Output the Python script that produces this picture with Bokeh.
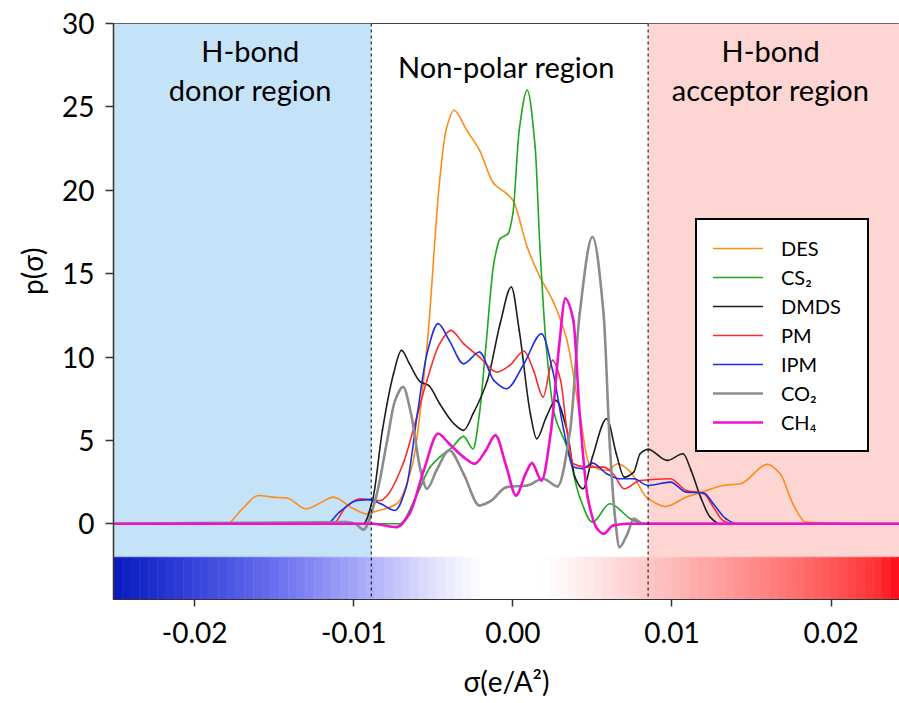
import numpy as np
from bokeh.plotting import figure
from bokeh.models import (Range1d, FixedTicker, BoxAnnotation, Span, Label, Title,
                          Legend, LegendItem, ColumnDataSource)
from bokeh.embed import file_html
from bokeh.resources import INLINE

# ---------------- data ----------------
des_sigma = [-0.025, -0.0180, -0.0170, -0.0160, -0.0151, -0.0142, -0.0130, -0.0120, -0.0113, -0.0100,
             -0.0092, -0.0088, -0.0073, -0.0063, -0.0054, -0.0046, -0.0042, -0.0037, -0.0029, -0.0021,
             -0.0012, -0.0004, 0.0000, 0.0009, 0.0017, 0.0025, 0.0034, 0.0042, 0.0048, 0.0059,
             0.0066, 0.0074, 0.0084, 0.0096, 0.0109, 0.0122, 0.0132, 0.0143, 0.0160, 0.0168,
             0.0176, 0.0184, 0.0201, 0.0229, 0.025]
des_p = [0, 0, 0.9, 1.7, 1.6, 1.55, 0.9, 1.3, 1.6, 0.9,
         0.6, 0.7, 1.2, 3.6, 10.6, 20.6, 23.6, 24.8, 23.6, 22.4,
         20.4, 19.8, 19.4, 16.6, 14.8, 13.4, 11.0, 6.6, 3.6, 3.2,
         3.6, 3.1, 1.6, 1.04, 1.6, 2.0, 2.3, 2.4, 3.56, 3.0,
         1.2, 0.1, 0.05, 0, 0]

cs2_sigma = [-0.025, -0.0071, -0.0061, -0.0052, -0.0046, -0.0038, -0.0031, -0.0025, -0.0021, -0.0017,
             -0.0012, -0.0008, -0.0003, 0.0000, 0.0004, 0.0009, 0.0014, 0.0017, 0.0021, 0.0026,
             0.0034, 0.0042, 0.0050, 0.0061, 0.0074, 0.0082, 0.025]
cs2_p = [0, 0, 1.6, 3.4, 4.0, 4.6, 5.24, 4.5, 6.6, 10.6,
         15.6, 17.1, 17.4, 18.6, 23.6, 26.0, 22.6, 16.6, 10.6, 6.6,
         4.6, 1.6, 0.1, 1.2, 0.3, 0, 0]

dmds_sigma = [-0.025, -0.0094, -0.0088, -0.0082, -0.0075, -0.0070, -0.0065, -0.0058, -0.0053, -0.0046,
              -0.0037, -0.0031, -0.0025, -0.0016, -0.0008, -0.0001, 0.0004, 0.0011, 0.0015, 0.0021,
              0.0027, 0.0034, 0.0039, 0.0044, 0.0050, 0.0059, 0.0065, 0.0070, 0.0076, 0.0080,
              0.0085, 0.0097, 0.0107, 0.0112, 0.0118, 0.0124, 0.0130, 0.025]
dmds_p = [0, 0, 1.5, 5.6, 9.0, 10.4, 9.6, 8.5, 8.3, 7.2,
          6.0, 5.6, 6.6, 8.6, 12.0, 14.2, 11.6, 6.6, 5.1, 6.4,
          7.4, 5.6, 2.8, 2.1, 4.0, 6.3, 4.2, 2.8, 3.1, 4.2,
          4.46, 3.8, 4.2, 3.2, 1.6, 0.4, 0, 0]

pm_sigma = [-0.025, -0.0113, -0.0105, -0.0096, -0.0090, -0.0083, -0.0079, -0.0069, -0.0061, -0.0054,
            -0.0046, -0.0039, -0.0031, -0.0021, -0.0010, -0.0002, 0.0007, 0.0013, 0.0019, 0.0025,
            0.0030, 0.0034, 0.0038, 0.0046, 0.0057, 0.0063, 0.0070, 0.0080, 0.0099, 0.0109,
            0.0120, 0.0126, 0.0132, 0.0139, 0.025]
pm_p = [0, 0, 1.0, 1.5, 1.45, 1.4, 1.7, 3.6, 6.2, 8.6,
        10.8, 11.6, 10.8, 10.0, 9.1, 9.5, 10.35, 9.2, 7.6, 9.8,
        8.6, 5.6, 3.6, 3.4, 3.4, 3.0, 2.1, 2.6, 2.7, 2.0,
        1.8, 1.0, 0.2, 0, 0]

ipm_sigma = [-0.025, -0.0117, -0.0109, -0.0098, -0.0090, -0.0083, -0.0074, -0.0067, -0.0060, -0.0054,
             -0.0047, -0.0040, -0.0031, -0.0021, -0.0012, -0.0004, 0.0007, 0.0018, 0.0025, 0.0032,
             0.0038, 0.0044, 0.0050, 0.0059, 0.0067, 0.0076, 0.0085, 0.0099, 0.0109, 0.0120,
             0.0126, 0.0134, 0.0141, 0.025]
ipm_p = [0, 0, 0.7, 1.4, 1.45, 1.2, 0.8, 2.2, 6.6, 10.2,
         12.0, 11.0, 9.6, 10.3, 8.6, 8.1, 9.6, 11.4, 9.2, 5.6,
         3.4, 3.3, 3.64, 3.0, 2.7, 2.7, 2.3, 2.5, 1.9, 1.85,
         1.2, 0.3, 0, 0]

co2_sigma = [-0.025, -0.0105, -0.0099, -0.0094, -0.0086, -0.0079, -0.0074, -0.0069, -0.0064, -0.0058,
             -0.0054, -0.0048, -0.0040, -0.0031, -0.0021, -0.0014, -0.0004, 0.0009, 0.0019, 0.0028,
             0.0036, 0.0042, 0.0050, 0.0057, 0.0061, 0.0064, 0.0067, 0.0072, 0.0076, 0.0082,
             0.025]
co2_p = [0, 0.1, 0.0, -0.35, 1.6, 5.0, 7.4, 8.2, 6.6, 3.2,
         2.1, 3.2, 4.4, 3.0, 1.1, 1.36, 2.2, 2.3, 2.7, 2.24,
         5.6, 12.6, 17.2, 12.6, 4.6, 0.6, -1.4, -0.6, 0.3, 0,
         0]

ch4_sigma = [-0.025, -0.0088, -0.0073, -0.0065, -0.0056, -0.0047, -0.0040, -0.0031, -0.0024, -0.0017,
             -0.0011, -0.0004, 0.0002, 0.0008, 0.0012, 0.0018, 0.0024, 0.0029, 0.0033, 0.0038,
             0.0042, 0.0047, 0.0053, 0.0057, 0.0063, 0.0072, 0.025]
ch4_p = [0, 0, -0.2, 0.6, 3.2, 5.4, 4.8, 4.0, 3.6, 4.4,
         5.3, 3.4, 1.7, 3.0, 3.64, 2.6, 5.6, 10.6, 13.5, 12.2,
         6.6, 1.6, -0.3, -0.6, -0.1, 0, 0]

series_names = ["DES", "CS\u2082", "DMDS", "PM", "IPM", "CO\u2082", "CH\u2084"]
series_sigma = [des_sigma, cs2_sigma, dmds_sigma, pm_sigma, ipm_sigma, co2_sigma, ch4_sigma]
series_p = [des_p, cs2_p, dmds_p, pm_p, ipm_p, co2_p, ch4_p]
series_colors = ["#FF8C1A", "#1EA81E", "#1E1E1E", "#FF2A2A", "#1F2FE0", "#8C8C8C", "#EE10CC"]
series_widths = [1.6, 1.6, 1.6, 1.6, 1.6, 2.6, 2.6]

x_ticks = [-0.02, -0.01, 0.0, 0.01, 0.02]
x_tick_labels = ["-0.02", "-0.01", "0.00", "0.01", "0.02"]
y_ticks = [0, 5, 10, 15, 20, 25, 30]

donor_limit = -0.0089
acceptor_limit = 0.0085

# colour-bar stops (sigma, r, g, b)
cb_sigma = [-0.0251, -0.02, -0.015, -0.01, -0.006, -0.003, -0.002, 0.002, 0.004, 0.008, 0.012, 0.016, 0.02, 0.023, 0.0243]
cb_r = [8, 55, 105, 162, 215, 245, 255, 255, 255, 254, 255, 255, 255, 255, 255]
cb_g = [26, 68, 110, 164, 215, 245, 255, 255, 240, 205, 168, 130, 88, 48, 8]
cb_b = [192, 218, 238, 248, 252, 255, 255, 255, 240, 205, 168, 130, 88, 52, 22]

FONT = "Lato"


def smooth_segments(xs, ys):
    """Monotone cubic (Fritsch-Butland) Bezier segments through the given points."""
    x = np.asarray(xs, float)
    y = np.asarray(ys, float)
    h = np.diff(x)
    d = np.diff(y) / h
    m = np.zeros_like(y)
    m[0], m[-1] = d[0], d[-1]
    for i in range(1, len(y) - 1):
        if d[i - 1] * d[i] <= 0:
            m[i] = 0.0
        else:
            w1 = 2 * h[i] + h[i - 1]
            w2 = h[i] + 2 * h[i - 1]
            m[i] = (w1 + w2) / (w1 / d[i - 1] + w2 / d[i])
    return dict(x0=x[:-1], y0=y[:-1], x1=x[1:], y1=y[1:],
                cx0=x[:-1] + h / 3, cy0=y[:-1] + m[:-1] * h / 3,
                cx1=x[1:] - h / 3, cy1=y[1:] - m[1:] * h / 3)


# ---------------- figure ----------------
p = figure(width=899, height=703,
           x_range=Range1d(-0.0251, 0.0243), y_range=Range1d(-4.54, 30),
           output_backend="svg", toolbar_location=None,
           min_border_left=113, min_border_right=0, min_border_top=23, min_border_bottom=104)
p.grid.visible = False
p.outline_line_color = "#404040"
p.outline_line_width = 1

# regions
p.add_layout(BoxAnnotation(left=-0.0251, right=donor_limit, bottom=-2.0, top=30,
                           fill_color="#C5E3F8", fill_alpha=1, line_color=None, level="underlay"))
p.add_layout(BoxAnnotation(left=acceptor_limit, right=0.0243, bottom=-2.0, top=30,
                           fill_color="#FDD5D3", fill_alpha=1, line_color=None, level="underlay"))

# colour bar
edges = np.linspace(-0.0251, 0.0243, 91)
mids = 0.5 * (edges[:-1] + edges[1:])
rr = np.interp(mids, cb_sigma, cb_r)
gg = np.interp(mids, cb_sigma, cb_g)
bb = np.interp(mids, cb_sigma, cb_b)
cols = ["#%02x%02x%02x" % (int(r), int(g), int(b)) for r, g, b in zip(rr, gg, bb)]
p.quad(left=edges[:-1], right=edges[1:], bottom=-4.54, top=-2.0,
       fill_color=cols, line_color=cols, line_width=0.6)

# curves
items = []
for name, xs, ys, c, w in zip(series_names, series_sigma, series_p, series_colors, series_widths):
    src = ColumnDataSource(smooth_segments(xs, ys))
    r = p.bezier(x0="x0", y0="y0", x1="x1", y1="y1", cx0="cx0", cy0="cy0", cx1="cx1", cy1="cy1",
                 source=src, line_color=c, line_width=w, line_cap="round")
    items.append(LegendItem(label=name, renderers=[r]))

# dashed boundaries
for loc in (donor_limit, acceptor_limit):
    p.add_layout(Span(location=loc, dimension="height", line_color="black",
                      line_width=1, line_dash="3 3"))

# region titles
for tx, ty, t in [(-0.0165, 28.4, "H-bond"), (-0.0165, 26.05, "donor region"),
                  (-0.0004, 27.4, "Non-polar region"),
                  (0.0162, 28.4, "H-bond"), (0.0162, 26.05, "acceptor region")]:
    p.add_layout(Label(x=tx, y=ty, text=t, text_align="center", text_baseline="middle",
                       text_font=FONT, text_font_size="29px", text_color="black"))

# y axis title
p.add_layout(Title(text="p(\u03c3)", align="right", offset=224, vertical_align="middle",
                   text_font=FONT, text_font_size="28px", text_font_style="normal",
                   text_color="black", standoff=20), "left")

# axes
p.yaxis.ticker = FixedTicker(ticks=y_ticks)
p.xaxis.ticker = FixedTicker(ticks=x_ticks)
p.xaxis.major_label_overrides = {t: l for t, l in zip(x_ticks, x_tick_labels)}
for ax in (p.xaxis[0], p.yaxis[0]):
    ax.major_label_text_font = FONT
    ax.major_label_text_font_size = "28px"
    ax.major_label_text_color = "black"
    ax.minor_tick_line_color = None
    ax.major_tick_in = 0
    ax.axis_line_color = "#333333"
    ax.major_tick_line_color = "#333333"
    ax.major_tick_line_width = 1.5
p.yaxis.major_tick_out = 8
p.yaxis.major_label_standoff = 11
p.yaxis.axis_line_width = 1.5
p.xaxis.major_tick_out = 7
p.xaxis.major_label_standoff = 15
p.xaxis.axis_label = "\u03c3(e/A\u00b2)"
p.xaxis.axis_label_text_font = FONT
p.xaxis.axis_label_text_font_size = "28px"
p.xaxis.axis_label_text_font_style = "normal"
p.xaxis.axis_label_text_color = "black"
p.xaxis.axis_label_standoff = 18

# legend
legend = Legend(items=items, location=(582, 147),
                label_text_font=FONT, label_text_font_size="20px", label_text_color="black",
                glyph_width=50, glyph_height=20, label_height=20, spacing=5,
                padding=16, label_standoff=18, label_width=70, margin=0,
                border_line_color="black", border_line_width=2, border_line_alpha=1,
                background_fill_color="white", background_fill_alpha=1)
p.add_layout(legend)

open("out.html", "w").write(file_html(p, INLINE))
